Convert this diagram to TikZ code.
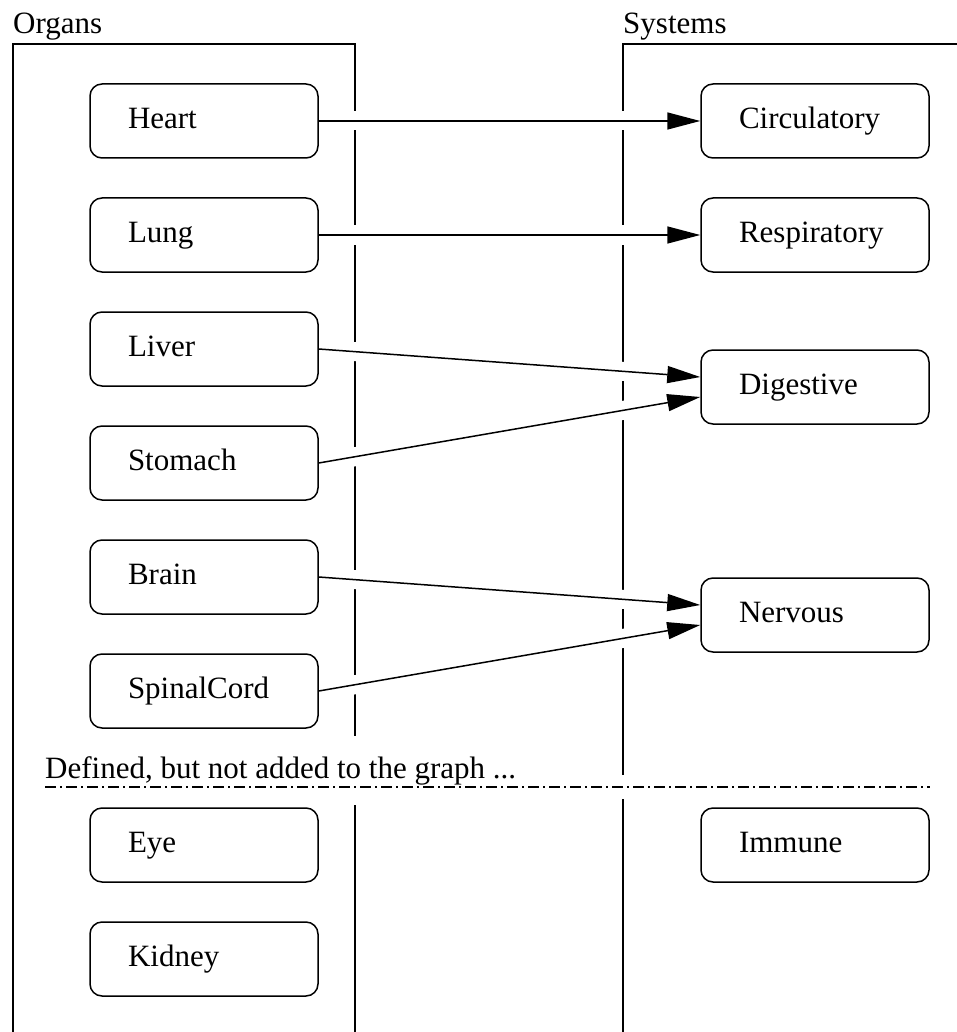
\documentclass[tikz,border=0pt]{standalone}
\usepackage{fontspec}
\setmainfont{Liberation Serif}
\usetikzlibrary{arrows.meta}

\tikzset{
  box/.style={draw, line width=1.5pt, rounded corners=12pt, minimum height=74pt,
    text width=152pt, inner xsep=38pt, inner ysep=0pt, align=left,
    font=\fontsize{31}{37}\selectfont, execute at begin node=\strut},
  frame/.style={line width=1.5pt},
  title/.style={anchor=base west, inner sep=0pt, font=\fontsize{31}{37}\selectfont},
  link/.style={line width=1.5pt, -{Triangle[length=33pt, width=17pt]},
    preaction={draw=white, line width=19pt, shorten <=20pt, shorten >=60pt, -}},
  divider/.style={line width=1.5pt, dash pattern=on 11pt off 4pt on 2pt off 4pt,
    preaction={draw=white, solid, line width=24pt, shorten <=500pt}}
}

\begin{document}
\begin{tikzpicture}[x=1pt, y=-1pt]
  \useasboundingbox (0,0) rectangle (957,1032);

  % column frames (open at the bottom)
  \draw[frame] (13,1032) -- (13,44) -- (355,44) -- (355,1032);
  \draw[frame] (623,1032) -- (623,44) -- (957,44);
  \node[title] (organsT) at (13,34) {Organs};
  \node[title] (systemsT) at (623,34) {Systems};

  % organs
  \node[box] (heart)  at (204,121) {Heart};
  \node[box] (lung)   at (204,235) {Lung};
  \node[box] (liver)  at (204,349) {Liver};
  \node[box] (stom)   at (204,463) {Stomach};
  \node[box] (brain)  at (204,577) {Brain};
  \node[box] (spine)  at (204,691) {SpinalCord};
  \node[box] (eye)    at (204,845) {Eye};
  \node[box] (kidney) at (204,959) {Kidney};

  % systems
  \node[box] (circ)   at (815,121) {Circulatory};
  \node[box] (resp)   at (815,235) {Respiratory};
  \node[box] (dig)    at (815,387) {Digestive};
  \node[box] (nerv)   at (815,615) {Nervous};
  \node[box] (imm)    at (815,845) {Immune};

  % organ -> system links
  \draw[link] (heart.east) -- (circ.west);
  \draw[link] (lung.east) -- (resp.west);
  \draw[link] (liver.east) -- ([yshift=10pt]dig.west);
  \draw[link] (stom.east) -- ([yshift=-10pt]dig.west);
  \draw[link] (brain.east) -- ([yshift=10pt]nerv.west);
  \draw[link] (spine.east) -- ([yshift=-10pt]nerv.west);

  % unused definitions
  \node[title, fill=white, inner xsep=4pt, inner ysep=20pt] (note) at (41,778)
    {Defined, but not added to the graph ...};
  \coordinate (divL) at (45,787);
  \coordinate (divR) at (930,787);
  \draw[divider] (divL) -- (divR);
\end{tikzpicture}
\end{document}
